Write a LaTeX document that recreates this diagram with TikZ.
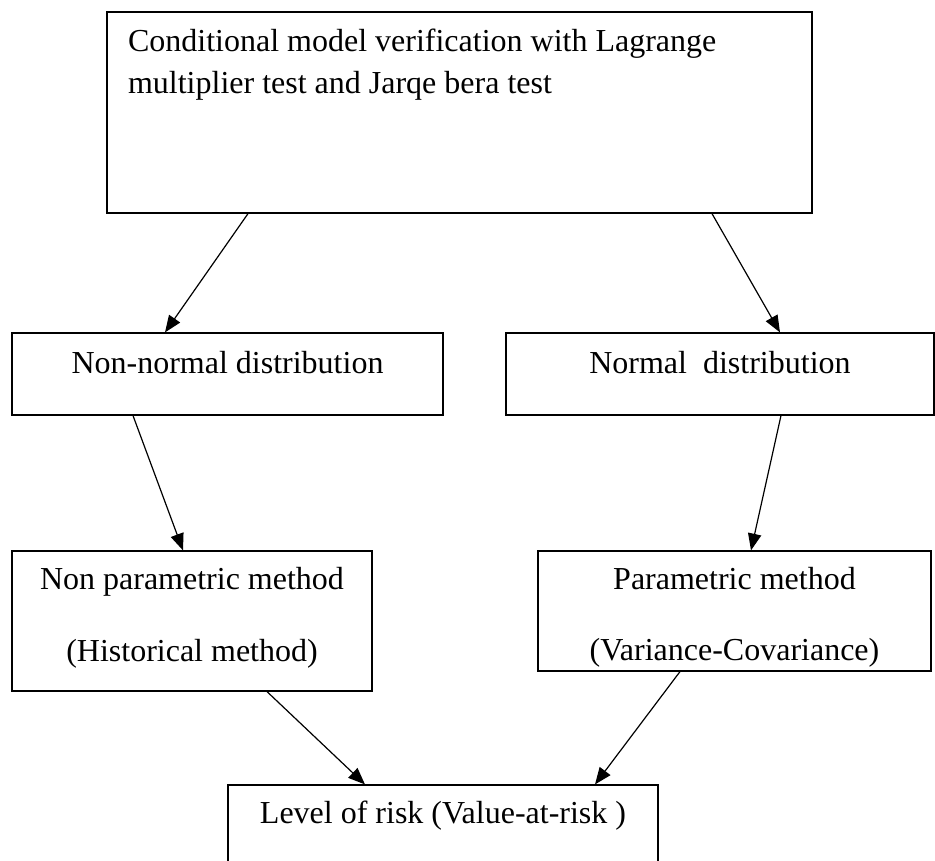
\documentclass[tikz,border=0pt]{standalone}
\usepackage{fontspec}
\setmainfont{Liberation Serif}
\usepackage{tikz}
\usetikzlibrary{arrows.meta}

\begin{document}
\begin{tikzpicture}[x=0.375pt, y=-0.375pt,
	box/.style={shape=rectangle, draw=black, line width=0.45pt, inner sep=0pt,
		font=\fontsize{12pt}{14pt}\selectfont},
	arrow/.style={-{Triangle[length=6.3pt, width=5pt]}, line width=0.45pt}]

	\useasboundingbox (0,0) rectangle (935,861);
	\clip (0,0) rectangle (935,861);

	\node[box, inner xsep=7.9pt, minimum width=264.4pt, text height=15pt, text depth=60.4pt] (cond) at (459.5, 112.5)
		{\begin{tabular}[t]{@{}p{248.6pt}@{}}Conditional model verification with Lagrange\\[1.4pt]multiplier test and Jarqe bera test\end{tabular}};

	\node[box, minimum width=161.6pt, text height=15pt, text depth=15.75pt] (nonnorm) at (227.5, 374) {Non-normal distribution};
	\node[box, minimum width=160.5pt, text height=15pt, text depth=15.75pt] (norm) at (720, 374) {Normal\ \ distribution};

	\node[box, minimum width=135pt, text height=14.6pt, text depth=37.9pt] (nonpar) at (192, 621)
		{\begin{tabular}[t]{@{}c@{}}Non parametric method\\[13pt](Historical method)\end{tabular}};
	\node[box, minimum width=147.4pt, text height=14.6pt, text depth=30.4pt] (par) at (734.5, 611)
		{\begin{tabular}[t]{@{}c@{}}Parametric method\\[12.3pt](Variance-Covariance)\end{tabular}};

	\node[box, minimum width=161.25pt, text height=14.6pt, text depth=21pt] (risk) at (443, 832.5) {Level of risk (Value-at-risk )};

	\path[arrow] (248,0 |- cond.south) edge (165,0 |- nonnorm.north);
	\path[arrow] (712,0 |- cond.south) edge (780,0 |- norm.north);
	\path[arrow] (133,0 |- nonnorm.south) edge (183,0 |- nonpar.north);
	\path[arrow] (781,0 |- norm.south) edge (751,0 |- par.north);
	\path[arrow] (267,0 |- nonpar.south) edge (365,0 |- risk.north);
	\path[arrow] (680,0 |- par.south) edge (595,0 |- risk.north);

\end{tikzpicture}
\end{document}
